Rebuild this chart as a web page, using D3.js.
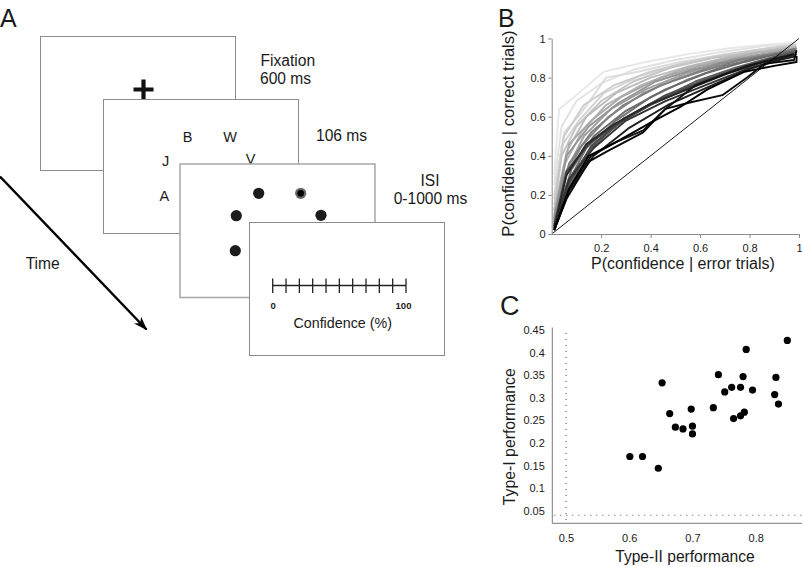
<!DOCTYPE html>
<html><head><meta charset="utf-8">
<script src="https://cdn.jsdelivr.net/npm/d3@7"></script>
<style>
body{margin:0;background:#fff}
svg{display:block;font-family:"Liberation Sans",Arial,Helvetica,sans-serif}
</style>
</head><body>
<svg id="fig" width="802" height="567"></svg>
<script>
// ---------- DATA ----------
// Panel B: type-II ROC curves, one per subject (light -> dark)
const rocGrays = ["#e8e8e8","#e2e2e2","#dcdcdc","#d4d4d4","#cccccc","#c4c4c4","#bbbbbb","#b2b2b2","#a8a8a8","#9e9e9e","#949494","#8a8a8a","#808080","#767676","#6b6b6b","#606060","#555555","#4a4a4a","#3f3f3f","#333333","#282828","#1e1e1e","#141414","#0a0a0a","#000000"];
const rocCurves = [
  [[0.01,0.30],[0.03,0.64],[0.09,0.70],[0.21,0.83],[0.38,0.88],[0.55,0.92],[0.72,0.95],[0.88,0.97],[0.99,0.98]],
  [[0.01,0.25],[0.04,0.55],[0.10,0.68],[0.20,0.77],[0.33,0.84],[0.50,0.89],[0.68,0.93],[0.85,0.96],[0.98,0.97]],
  [[0.01,0.20],[0.05,0.52],[0.12,0.62],[0.22,0.80],[0.35,0.83],[0.52,0.88],[0.70,0.92],[0.87,0.95],[0.99,0.96]],
  [[0.01,0.18],[0.04,0.45],[0.11,0.58],[0.21,0.72],[0.36,0.81],[0.50,0.86],[0.66,0.91],[0.83,0.94],[0.98,0.96]],
  [[0.01,0.15],[0.05,0.50],[0.13,0.66],[0.25,0.76],[0.40,0.83],[0.55,0.88],[0.72,0.92],[0.88,0.95],[0.99,0.97]],
  [[0.01,0.12],[0.04,0.40],[0.10,0.55],[0.20,0.68],[0.33,0.78],[0.48,0.85],[0.65,0.90],[0.82,0.93],[0.98,0.95]],
  [[0.01,0.12],[0.06,0.42],[0.14,0.60],[0.26,0.72],[0.40,0.80],[0.56,0.86],[0.73,0.91],[0.88,0.94],[0.99,0.96]],
  [[0.01,0.10],[0.05,0.35],[0.12,0.52],[0.22,0.66],[0.36,0.76],[0.52,0.84],[0.68,0.89],[0.85,0.93],[0.98,0.95]],
  [[0.01,0.09],[0.07,0.46],[0.16,0.58],[0.28,0.70],[0.44,0.80],[0.60,0.86],[0.75,0.90],[0.90,0.93],[0.99,0.95]],
  [[0.01,0.08],[0.05,0.30],[0.13,0.50],[0.24,0.64],[0.38,0.74],[0.54,0.82],[0.70,0.88],[0.86,0.92],[0.98,0.94]],
  [[0.01,0.08],[0.06,0.40],[0.15,0.55],[0.27,0.67],[0.42,0.78],[0.57,0.84],[0.73,0.89],[0.88,0.92],[0.99,0.94]],
  [[0.01,0.07],[0.05,0.28],[0.12,0.45],[0.23,0.60],[0.37,0.72],[0.52,0.80],[0.68,0.87],[0.84,0.91],[0.98,0.94]],
  [[0.01,0.06],[0.07,0.36],[0.16,0.52],[0.29,0.66],[0.44,0.76],[0.60,0.83],[0.76,0.89],[0.90,0.92],[0.99,0.95]],
  [[0.01,0.06],[0.06,0.25],[0.14,0.44],[0.26,0.58],[0.40,0.70],[0.55,0.79],[0.70,0.86],[0.86,0.91],[0.98,0.93]],
  [[0.01,0.05],[0.08,0.33],[0.17,0.50],[0.30,0.63],[0.46,0.74],[0.62,0.82],[0.78,0.88],[0.91,0.92],[0.99,0.94]],
  [[0.01,0.05],[0.06,0.22],[0.15,0.42],[0.27,0.57],[0.42,0.68],[0.58,0.78],[0.74,0.85],[0.88,0.90],[0.98,0.93]],
  [[0.01,0.04],[0.08,0.30],[0.18,0.47],[0.31,0.60],[0.46,0.71],[0.62,0.79],[0.78,0.86],[0.91,0.91],[0.99,0.93]],
  [[0.01,0.04],[0.07,0.26],[0.16,0.45],[0.29,0.59],[0.45,0.70],[0.61,0.78],[0.77,0.85],[0.90,0.90],[0.98,0.92]],
  [[0.01,0.04],[0.06,0.32],[0.15,0.46],[0.26,0.56],[0.40,0.66],[0.56,0.75],[0.72,0.83],[0.87,0.89],[0.98,0.92]],
  [[0.01,0.03],[0.07,0.28],[0.17,0.44],[0.30,0.58],[0.46,0.68],[0.62,0.76],[0.78,0.84],[0.91,0.89],[0.99,0.92]],
  [[0.01,0.03],[0.06,0.30],[0.14,0.46],[0.25,0.56],[0.39,0.66],[0.55,0.74],[0.71,0.82],[0.86,0.88],[0.97,0.91]],
  [[0.01,0.02],[0.07,0.22],[0.17,0.40],[0.31,0.54],[0.47,0.66],[0.63,0.75],[0.79,0.84],[0.92,0.89],[0.99,0.91]],
  [[0.01,0.02],[0.07,0.23],[0.16,0.40],[0.26,0.47],[0.37,0.53],[0.46,0.64],[0.58,0.76],[0.79,0.86],[0.98,0.92]],
  [[0.01,0.02],[0.06,0.18],[0.15,0.37],[0.22,0.42],[0.37,0.52],[0.46,0.64],[0.55,0.67],[0.69,0.71],[0.79,0.80],[0.86,0.87],[0.98,0.89],[0.99,0.94]],
  [[0.01,0.02],[0.07,0.23],[0.15,0.40],[0.26,0.47],[0.40,0.57],[0.52,0.65],[0.63,0.74],[0.78,0.83],[0.90,0.86],[0.99,0.88],[0.99,0.91]]
];
const rocTicksY = [0, 0.2, 0.4, 0.6, 0.8, 1];
const rocTicksX = [0.2, 0.4, 0.6, 0.8, 1];

// Panel C: per-subject performance
const type2Perf = [0.601,0.621,0.646,0.652,0.664,0.673,0.685,0.698,0.700,0.700,0.733,0.741,0.751,0.762,0.765,0.776,0.776,0.782,0.780,0.785,0.795,0.830,0.832,0.836,0.850];
const type1Perf = [0.170,0.170,0.144,0.333,0.265,0.235,0.231,0.275,0.237,0.220,0.278,0.351,0.313,0.323,0.254,0.323,0.260,0.268,0.347,0.407,0.317,0.307,0.345,0.286,0.427];
const perfTicksX = [0.5, 0.6, 0.7, 0.8];
const perfTicksY = [0.05, 0.1, 0.15, 0.2, 0.25, 0.3, 0.35, 0.4, 0.45];
const chanceType2 = 0.5;
const chanceType1 = 0.04;

// Panel A: confidence scale ticks
const confTicks = [0,10,20,30,40,50,60,70,80,90,100];
const confLabels = [0, 100];

// ---------- DRAW ----------
const svg = d3.select("#fig");
const TXT = "#1a1a1a";

// ===== Panel A =====
const A = svg.append("g");
A.append("text").attr("x", 0).attr("y", 27).attr("font-size", 25).attr("fill", TXT).text("A");

const screens = [
  {x: 40.5, y: 36.5, w: 195, h: 134, c: "#8c8c8c", sw: 1},
  {x: 103.5, y: 99.5, w: 195, h: 134, c: "#8c8c8c", sw: 1},
  {x: 180, y: 164, w: 195, h: 133.5, c: "#a8a8a8", sw: 1.5},
  {x: 249.5, y: 222.5, w: 195, h: 133, c: "#8c8c8c", sw: 1}
];
function screen(i) {
  const s = screens[i];
  A.append("rect").attr("x", s.x).attr("y", s.y).attr("width", s.w).attr("height", s.h)
    .attr("fill", "#fff").attr("stroke", s.c).attr("stroke-width", s.sw);
}
// screen 1: fixation
screen(0);
A.append("path").attr("d", "M133.5,89.5H153.5M143.5,79.5V99.5").attr("stroke", "#111").attr("stroke-width", 4.2);
A.append("text").attr("x", 260.5).attr("y", 65.5).attr("font-size", 15.6).attr("fill", TXT).text("Fixation");
A.append("text").attr("x", 260).attr("y", 83.5).attr("font-size", 15.6).attr("fill", TXT).text("600 ms");

// screen 2: letters
screen(1);
const letterPos = [[187.7,142],[230,142],[165.7,165.5],[250.7,164],[164.3,200.5]];
const letters = ["B","W","J","V","A"];
letters.forEach((l, i) => {
  A.append("text").attr("x", letterPos[i][0]).attr("y", letterPos[i][1]).attr("text-anchor", "middle")
    .attr("font-size", 14.5).attr("fill", TXT).text(l);
});
A.append("text").attr("x", 316).attr("y", 141).attr("font-size", 15.6).attr("fill", TXT).text("106 ms");

// screen 3: dots
screen(2);
const dotPos = [[258.7,193.3],[236.3,215.7],[321,215.3],[235.3,250.7]];
dotPos.forEach(p => A.append("circle").attr("cx", p[0]).attr("cy", p[1]).attr("r", 5.6).attr("fill", "#1c1c1c"));
A.append("circle").attr("cx", 300.7).attr("cy", 193.3).attr("r", 5.6).attr("fill", "#6a6a6a");
A.append("circle").attr("cx", 300.7).attr("cy", 193.3).attr("r", 3.4).attr("fill", "#000");
A.append("text").attr("x", 430).attr("y", 186).attr("text-anchor", "middle").attr("font-size", 15.6).attr("fill", TXT).text("ISI");
A.append("text").attr("x", 430.5).attr("y", 204).attr("text-anchor", "middle").attr("font-size", 15.6).attr("fill", TXT).text("0-1000 ms");

// screen 4: confidence scale
screen(3);
const cs = d3.scaleLinear().domain([0, 100]).range([272.7, 406]);
A.append("line").attr("x1", cs(0)).attr("x2", cs(100)).attr("y1", 285.5).attr("y2", 285.5)
  .attr("stroke", "#222").attr("stroke-width", 1.6);
A.selectAll(".ctick").data(confTicks).enter().append("line")
  .attr("x1", d => cs(d)).attr("x2", d => cs(d)).attr("y1", 278.5).attr("y2", 293)
  .attr("stroke", "#222").attr("stroke-width", 1.3);
A.selectAll(".clab").data(confLabels).enter().append("text")
  .attr("x", d => cs(d) + (d === 100 ? -2.5 : 0.5)).attr("y", 308.5).attr("text-anchor", "middle")
  .attr("font-size", 9.5).attr("font-weight", "bold").attr("fill", TXT).text(d => d);
A.append("text").attr("x", 342.7).attr("y", 328.3).attr("text-anchor", "middle").attr("font-size", 14.3)
  .attr("fill", TXT).text("Confidence (%)");

// time arrow
const defs = svg.append("defs");
defs.append("marker").attr("id", "ah").attr("viewBox", "0 0 14 10").attr("refX", 13).attr("refY", 5)
  .attr("markerWidth", 14).attr("markerHeight", 10).attr("markerUnits", "userSpaceOnUse").attr("orient", "auto")
  .append("path").attr("d", "M0,0L14,5L0,10L4,5Z").attr("fill", "#000");
A.append("line").attr("x1", 0).attr("y1", 176.5).attr("x2", 146.5).attr("y2", 329.5)
  .attr("stroke", "#000").attr("stroke-width", 2.4).attr("marker-end", "url(#ah)");
A.append("text").attr("x", 42.7).attr("y", 269).attr("text-anchor", "middle").attr("font-size", 15.6)
  .attr("fill", TXT).text("Time");

// ===== Panel B =====
const B = svg.append("g");
const bx = d3.scaleLinear().domain([0, 1]).range([551.7, 799]);
const by = d3.scaleLinear().domain([0, 1]).range([234, 38.5]);
B.append("text").attr("x", 498).attr("y", 27).attr("font-size", 25).attr("fill", TXT).text("B");

const line = d3.line().x(d => bx(d[0])).y(d => by(d[1]));
B.append("g").selectAll("path").data(rocCurves).enter().append("path")
  .attr("d", line).attr("fill", "none").attr("stroke", (d, i) => rocGrays[i])
  .attr("stroke-width", 1.9).attr("stroke-linejoin", "round");
B.append("line").attr("x1", bx(0)).attr("y1", by(0)).attr("x2", bx(1)).attr("y2", by(1))
  .attr("stroke", "#000").attr("stroke-width", 0.9);

const byAxis = B.append("g").attr("transform", `translate(${bx(0)},0)`)
  .call(d3.axisLeft(by).tickValues(rocTicksY).tickFormat(d => String(d)).tickSizeInner(3.5).tickSizeOuter(0).tickPadding(2.5));
const bxAxis = B.append("g").attr("transform", `translate(0,${by(0)})`)
  .call(d3.axisBottom(bx).tickValues(rocTicksX).tickFormat(d => String(d)).tickSizeInner(4).tickSizeOuter(0).tickPadding(6.5));
[byAxis, bxAxis].forEach(g => {
  g.select(".domain").attr("stroke", "#8a8a8a");
  g.selectAll(".tick line").attr("stroke", "#8a8a8a");
  g.selectAll(".tick text").attr("font-size", 11).attr("fill", TXT).attr("font-family", null);
});
B.append("text").attr("transform", "translate(514,133.5) rotate(-90)").attr("text-anchor", "middle")
  .attr("font-size", 16.6).attr("fill", TXT).text("P(confidence | correct trials)");
B.append("text").attr("x", 683).attr("y", 268.5).attr("text-anchor", "middle")
  .attr("font-size", 16).attr("fill", TXT).text("P(confidence | error trials)");

// ===== Panel C =====
const C = svg.append("g");
const cx = d3.scaleLinear().domain([0.5, 0.8]).range([566, 755.7]);
const cy = d3.scaleLinear().domain([0.05, 0.45]).range([510.7, 330]);
const cLeft = 552.3, cBottom = 523.3, cTop = 327.5, cRight = 802;
C.append("text").attr("x", 500).attr("y", 315).attr("font-size", 27).attr("fill", TXT).text("C");

C.append("line").attr("x1", cx(chanceType2)).attr("x2", cx(chanceType2)).attr("y1", cy(0.45) + 3).attr("y2", cBottom - 3)
  .attr("stroke", "#555").attr("stroke-width", 1).attr("stroke-dasharray", "1,5");
C.append("line").attr("x1", cLeft + 2).attr("x2", cRight).attr("y1", cy(chanceType1)).attr("y2", cy(chanceType1))
  .attr("stroke", "#555").attr("stroke-width", 1).attr("stroke-dasharray", "1,5");

const cxAxis = C.append("g").attr("transform", `translate(0,${cBottom})`)
  .call(d3.axisBottom(cx).tickValues(perfTicksX).tickFormat(d => String(d)).tickSize(0).tickPadding(11));
const cyAxis = C.append("g").attr("transform", `translate(${cLeft},0)`)
  .call(d3.axisLeft(cy).tickValues(perfTicksY).tickFormat(d => String(+d.toFixed(2))).tickSize(0).tickPadding(7.5));
cxAxis.select(".domain").remove();
cyAxis.select(".domain").remove();
[cxAxis, cyAxis].forEach(g => {
  g.selectAll(".tick text").attr("font-size", 11).attr("fill", TXT).attr("font-family", null);
});
C.append("path").attr("d", `M${cLeft},${cTop}V${cBottom}H${cRight}`).attr("fill", "none")
  .attr("stroke", "#7a7a7a").attr("stroke-width", 1);

C.selectAll(".pt").data(type2Perf).enter().append("circle")
  .attr("cx", d => cx(d)).attr("cy", (d, i) => cy(type1Perf[i])).attr("r", 3.6).attr("fill", "#000");

C.append("text").attr("transform", "translate(515,436.7) rotate(-90)").attr("text-anchor", "middle")
  .attr("font-size", 15.8).attr("fill", TXT).text("Type-I performance");
C.append("text").attr("x", 685).attr("y", 562).attr("text-anchor", "middle")
  .attr("font-size", 15.6).attr("fill", TXT).text("Type-II performance");
</script>
</body></html>
